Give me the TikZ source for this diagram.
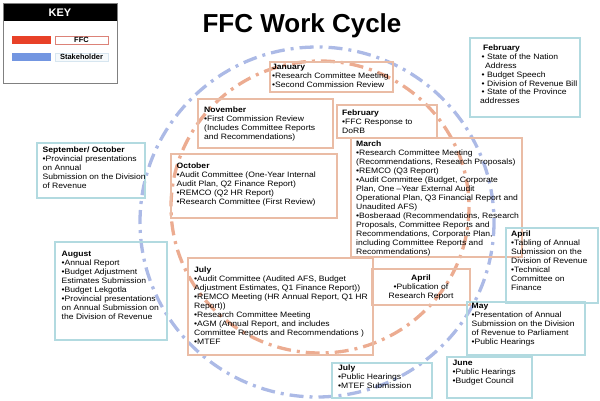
\documentclass[tikz,border=0pt]{standalone}
\usepackage{fontspec}
\setmainfont[FakeStretch=1.1]{Liberation Sans}
\newfontfamily\plainsans{Liberation Sans}
\definecolor{ffcline}{RGB}{234,188,165}
\definecolor{stkline}{RGB}{178,218,224}
\definecolor{ffccirc}{RGB}{236,172,145}
\definecolor{stkcirc}{RGB}{172,186,230}
\definecolor{keyred}{RGB}{232,65,40}
\definecolor{keyblue}{RGB}{115,150,225}
\tikzset{
  ffcbox/.style={draw=ffcline, line width=2pt},
  stkbox/.style={draw=stkline, line width=2pt},
  txt/.style={inner sep=0pt, anchor=north west, align=left, font=\fontsize{7.8}{#1}\selectfont},
  txt/.default=9,
  circ/.style={line width=3.3pt, dash pattern=on 14pt off 6pt on 3pt off 6pt},
}
\begin{document}
\begin{tikzpicture}[x=1pt,y=-1pt]
\useasboundingbox (0,0) rectangle (600,400);
% cycles
\draw[circ, stkcirc] (317,222) ellipse [x radius=177, y radius=175];
\draw[circ, ffccirc] (320,207) ellipse [x radius=149, y radius=146];
% key
\fill[black] (3,3) rectangle (117,21);
\draw[gray, line width=0.8pt] (3,3) rectangle (117,83);
\node[text=white, font=\plainsans\bfseries\fontsize{11}{13}\selectfont] (keyt) at (60,12.5) {KEY};
\fill[keyred] (12,36) rectangle (51,44);
\draw[draw={rgb,255:red,220;green,130;blue,120}, fill=white, line width=0.7pt] (55,36) rectangle (108,44);
\node[font=\plainsans\bfseries\fontsize{7.5}{9}\selectfont] (keyffc) at (81.5,40) {FFC};
\fill[keyblue] (12,53) rectangle (51,61);
\draw[draw={rgb,255:red,215;green,230;blue,240}, fill={rgb,255:red,246;green,250;blue,252}, line width=0.7pt] (55,53) rectangle (108,61);
\node[font=\plainsans\bfseries\fontsize{7.5}{9}\selectfont] (keystk) at (81.5,57) {Stakeholder};
% title
\node[anchor=base, font=\plainsans\bfseries\fontsize{26}{30}\selectfont] (title) at (302,32) {FFC Work Cycle};
% FFC boxes
\draw[ffcbox] (270,62) rectangle (393,92);
\node[txt] (jan) at (272,64) {\textbf{January}\\•Research Committee Meeting\\•Second Commission Review};
\draw[ffcbox] (198,99) rectangle (333,148);
\node[txt] (nov) at (204,107) {\textbf{November}\\•First Commission Review\\(Includes Committee Reports\\and Recommendations)};
\draw[ffcbox] (337,105) rectangle (437,138);
\node[txt] (febffc) at (342,110) {\textbf{February}\\•FFC Response to\\DoRB};
\draw[ffcbox] (351,138) rectangle (522,257);
\node[txt] (mar) at (356,141) {\textbf{March}\\•Research Committee Meeting\\(Recommendations, Research Proposals)\\•REMCO (Q3 Report)\\•Audit Committee (Budget, Corporate\\Plan, One –Year External Audit\\Operational Plan, Q3 Financial Report and\\Unaudited AFS)\\•Bosberaad (Recommendations, Research\\Proposals, Committee Reports and\\Recommendations, Corporate Plan,\\including Committee Reports and\\Recommendations)};
\draw[ffcbox] (171,154) rectangle (337,218);
\node[txt] (oct) at (176.5,163) {\textbf{October}\\•Audit Committee (One-Year Internal\\Audit Plan, Q2 Finance Report)\\•REMCO (Q2 HR Report)\\•Research Committee (First Review)};
\draw[ffcbox] (188,258) rectangle (373,355);
\node[txt] (jul) at (194,267) {\textbf{July}\\•Audit Committee (Audited AFS, Budget\\Adjustment Estimates, Q1 Finance Report))\\•REMCO Meeting (HR Annual Report, Q1 HR\\Report))\\•Research Committee Meeting\\•AGM (Annual Report, and includes\\Committee Reports and Recommendations )\\•MTEF};
\draw[ffcbox] (372,269) rectangle (470,305);
\node[txt, anchor=north, align=center] (aprffc) at (421,275) {\textbf{April}\\•Publication of\\Research Report};
% stakeholder boxes
\draw[stkbox] (470,38) rectangle (580,117);
\node[txt=8.8] (febstk) at (480,45) {\hspace*{3pt}\textbf{February}\\\hspace*{1.5pt}• State of the Nation\\\hspace*{5pt}Address\\\hspace*{1.5pt}• Budget Speech\\\hspace*{1.5pt}• Division of Revenue Bill\\\hspace*{1.5pt}• State of the Province\\addresses};
\draw[stkbox] (37,143) rectangle (145,198);
\node[txt=8.8] (sep) at (42.5,147) {\textbf{September/ October}\\•Provincial presentations\\on Annual\\Submission on the Division\\of Revenue};
\draw[stkbox] (55,242) rectangle (167,340);
\node[txt] (aug) at (61.5,251) {\textbf{August}\\•Annual Report\\•Budget Adjustment\\Estimates Submission\\•Budget Lekgotla\\•Provincial presentations\\on Annual Submission on\\the Division of Revenue};
\draw[stkbox] (506,228) rectangle (598,303);
\node[txt] (aprstk) at (511,231) {\textbf{April}\\•Tabling of Annual\\Submission on the\\Division of Revenue\\•Technical\\Committee on\\Finance};
\draw[stkbox] (467,302) rectangle (585,355);
\node[txt] (may) at (471.5,303) {\textbf{May}\\•Presentation of Annual\\Submission on the Division\\of Revenue to Parliament\\•Public Hearings};
\draw[stkbox] (447,357) rectangle (532,398);
\node[txt] (jun) at (452.5,360) {\textbf{June}\\•Public Hearings\\•Budget Council};
\draw[stkbox] (332,363) rectangle (432,398);
\node[txt=8.6] (julstk) at (338,365) {\textbf{July}\\•Public Hearings\\•MTEF Submission};
\end{tikzpicture}
\end{document}
